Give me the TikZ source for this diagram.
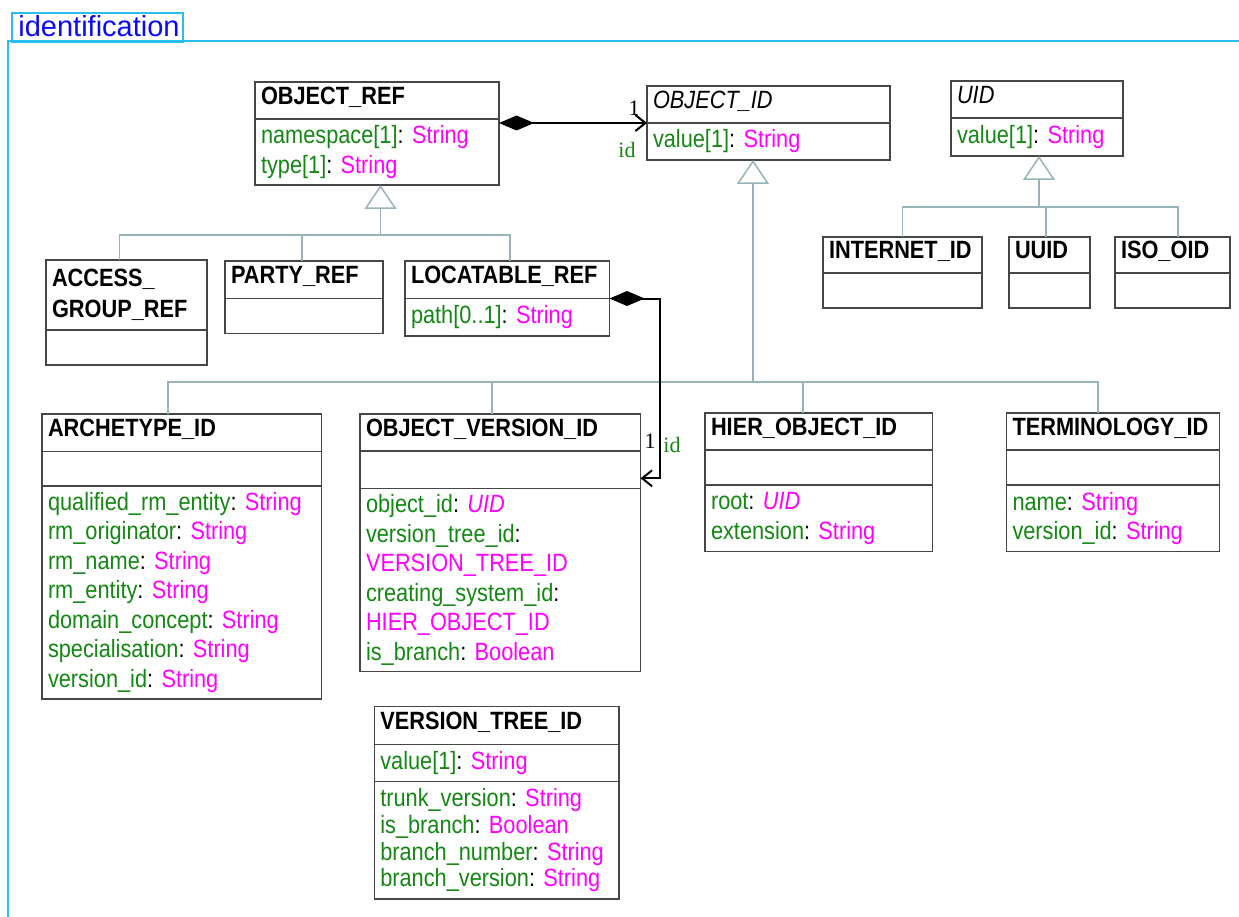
\documentclass[tikz,border=0pt]{standalone}
\usepackage{fontspec}
\setmainfont{Liberation Sans}[FakeStretch=0.87]
\newfontfamily\tabfont{Liberation Sans}
\newfontfamily\lblfont{Liberation Serif}
\usepackage{tikz}
\usetikzlibrary{positioning, arrows.meta, calc}
\definecolor{framecyan}{RGB}{40,190,240}
\definecolor{titleblue}{RGB}{10,10,245}
\definecolor{boxline}{RGB}{70,70,70}
\definecolor{gencol}{RGB}{150,180,185}
\definecolor{attgreen}{RGB}{20,135,20}
\definecolor{typemag}{RGB}{255,0,255}
\newcommand{\umlfont}{\fontsize{25}{29.5}\selectfont}
\newcommand{\attname}[1]{\textcolor{attgreen}{#1}}
\newcommand{\atttype}[1]{\textcolor{typemag}{#1}}
\frenchspacing

\begin{document}
\begin{tikzpicture}[x=1pt, y=-1pt,
    part/.style={draw=boxline, line width=1.2pt, fill=white, outer sep=0pt,
      inner xsep=6pt, inner ysep=2pt, align=left, text width=#1, font=\umlfont},
    ttl/.style={part=#1, anchor=north west, minimum height=37pt,
      font=\umlfont\bfseries, text height=18pt, text depth=10pt},
    absttl/.style={ttl=#1, font=\umlfont\itshape},
    gen/.style={draw=gencol, line width=1.8pt},
    genhead/.style={-{Triangle[length=24pt,width=32pt,fill=white,line width=1.5pt]}},
    comp/.style={draw=black, line width=2pt,
      {Diamond[length=35pt,width=15pt]}-{Straight Barb[length=10pt,width=16pt]}},
    lbl/.style={font=\lblfont\fontsize{22}{24}\selectfont, inner sep=0pt},
    tabbox/.style={draw=framecyan, line width=2pt, anchor=north west,
      minimum width=171pt, minimum height=29.5pt, inner sep=0pt, text=titleblue,
      font=\tabfont\fontsize{29}{32}\selectfont, text depth=4pt},
    frame/.style={draw=framecyan, line width=2pt}]
    \useasboundingbox (0,0) rectangle (1239,917);

    % package frame
    \node[tabbox] (tab) at (11,12) {\hspace*{3pt}identification};
    \draw[frame] (8,917) |- (1239,41.5);

    % OBJECT_REF and OBJECT_ID
    \node[ttl=232pt] (orefT) at (255,82) {OBJECT\_REF};
    \node[part=232pt, minimum height=66pt, below=0pt of orefT] (orefA) {\attname{namespace[1]}: \atttype{String}\\ \attname{type[1]}: \atttype{String}};
    \node[absttl=231pt] (oidT) at (647,86) {OBJECT\_ID};
    \node[part=231pt, minimum height=37pt, below=0pt of oidT] (oidA) {\attname{value[1]}: \atttype{String}};

    % UID and its subtypes
    \node[absttl=160pt] (uidT) at (951,81) {UID};
    \node[part=160pt, minimum height=38pt, below=0pt of uidT] (uidA) {\attname{value[1]}: \atttype{String}};
    \node[ttl=147pt, minimum height=36pt] (inetT) at (823,237) {INTERNET\_ID};
    \node[part=147pt, minimum height=35pt, below=0pt of inetT] (inetA) {};
    \node[ttl=69pt, minimum height=36pt] (uuidT) at (1009,237) {UUID};
    \node[part=69pt, minimum height=35pt, below=0pt of uuidT] (uuidA) {};
    \node[ttl=103pt, minimum height=36pt] (isoT) at (1115,237) {ISO\_OID};
    \node[part=103pt, minimum height=35pt, below=0pt of isoT] (isoA) {};

    % subtypes of OBJECT_REF
    \node[part=149pt, anchor=north west, minimum height=70pt, font=\fontsize{25}{31.5}\selectfont\bfseries] (agrT) at (46,260) {ACCESS\_\\GROUP\_REF};
    \node[part=149pt, minimum height=35pt, below=0pt of agrT] (agrA) {};
    \node[ttl=146pt, minimum height=37.5pt] (ptyT) at (225,261) {PARTY\_REF};
    \node[part=146pt, minimum height=35pt, below=0pt of ptyT] (ptyA) {};
    \node[ttl=192.5pt, minimum height=37.5pt] (locT) at (405,261) {LOCATABLE\_REF};
    \node[part=192.5pt, minimum height=37.5pt, below=0pt of locT] (locA) {\attname{path[0..1]}: \atttype{String}};

    % subtypes of OBJECT_ID
    \node[ttl=267.5pt, minimum height=37.5pt] (archT) at (42,414) {ARCHETYPE\_ID};
    \node[part=267.5pt, minimum height=34.5pt, below=0pt of archT] (archE) {};
    \node[part=267.5pt, minimum height=213pt, below=0pt of archE] (archA) {\attname{qualified\_rm\_entity}: \atttype{String}\\ \attname{rm\_originator}: \atttype{String}\\ \attname{rm\_name}: \atttype{String}\\ \attname{rm\_entity}: \atttype{String}\\ \attname{domain\_concept}: \atttype{String}\\ \attname{specialisation}: \atttype{String}\\ \attname{version\_id}: \atttype{String}};

    \node[ttl=268.5pt] (oviT) at (360,414) {OBJECT\_VERSION\_ID};
    \node[part=268.5pt, minimum height=37.3pt, below=0pt of oviT] (oviE) {};
    \node[part=268.5pt, minimum height=183.4pt, below=0pt of oviE] (oviA) {\attname{object\_id}: \atttype{\itshape UID}\\ \attname{version\_tree\_id}:\\ \atttype{VERSION\_TREE\_ID}\\ \attname{creating\_system\_id}:\\ \atttype{HIER\_OBJECT\_ID}\\ \attname{is\_branch}: \atttype{Boolean}};

    \node[ttl=215.5pt] (hierT) at (705,413) {HIER\_OBJECT\_ID};
    \node[part=215.5pt, minimum height=35pt, below=0pt of hierT] (hierE) {};
    \node[part=215.5pt, minimum height=66.7pt, below=0pt of hierE] (hierA) {\attname{root}: \atttype{\itshape UID}\\ \attname{extension}: \atttype{String}};

    \node[ttl=201pt] (termT) at (1006.5,413) {TERMINOLOGY\_ID};
    \node[part=201pt, minimum height=35pt, below=0pt of termT] (termE) {};
    \node[part=201pt, minimum height=66.7pt, below=0pt of termE] (termA) {\attname{name}: \atttype{String}\\ \attname{version\_id}: \atttype{String}};

    % VERSION_TREE_ID
    \node[ttl=232.7pt, minimum height=37.6pt] (vtreeT) at (374.3,706.7) {VERSION\_TREE\_ID};
    \node[part=232.7pt, minimum height=37.4pt, below=0pt of vtreeT] (vtreeA) {\attname{value[1]}: \atttype{String}};
    \node[part=232.7pt, minimum height=117.3pt, font=\fontsize{25}{26.7}\selectfont, below=0pt of vtreeA] (vtreeO) {\attname{trunk\_version}: \atttype{String}\\ \attname{is\_branch}: \atttype{Boolean}\\ \attname{branch\_number}: \atttype{String}\\ \attname{branch\_version}: \atttype{String}};

    % generalisations
    \coordinate (g1) at (380.5,235);
    \draw[gen, genhead] (g1) -- (g1 |- orefA.south);
    \draw[gen] ([xshift=-7pt]agrT.north) |- (g1) -| ([xshift=3pt]locT.north);
    \draw[gen] ([xshift=-2pt]ptyT.north) |- (g1);

    \coordinate (g2) at (753,382);
    \draw[gen, genhead] (g2) -- (g2 |- oidA.south);
    \draw[gen] ([xshift=-14pt]archT.north) |- (g2) -| ([xshift=-15pt]termT.north);
    \draw[gen] ([xshift=-8pt]oviT.north) |- (g2);
    \draw[gen] ([xshift=-16pt]hierT.north) |- (g2);

    \coordinate (g3) at (1039,207);
    \draw[gen, genhead] (g3) -- (g3 |- uidA.south);
    \draw[gen] (inetT.north) |- (g3) -| ([xshift=5.5pt]isoT.north);
    \draw[gen] ([xshift=-3.5pt]uuidT.north) |- (g3);

    % compositions
    \draw[comp] (orefA.east |- oidT.south) -- (oidT.south west);
    \node[lbl] (m1) at (634,108) {1};
    \node[lbl, text=attgreen] (r1) at (627,150) {id};
    \draw[comp] (locT.south east) -- ++(50,0) |- ([yshift=10pt]oviE.south east);
    \node[lbl] (m2) at (650,441) {1};
    \node[lbl, text=attgreen] (r2) at (672,445) {id};
\end{tikzpicture}
\end{document}
